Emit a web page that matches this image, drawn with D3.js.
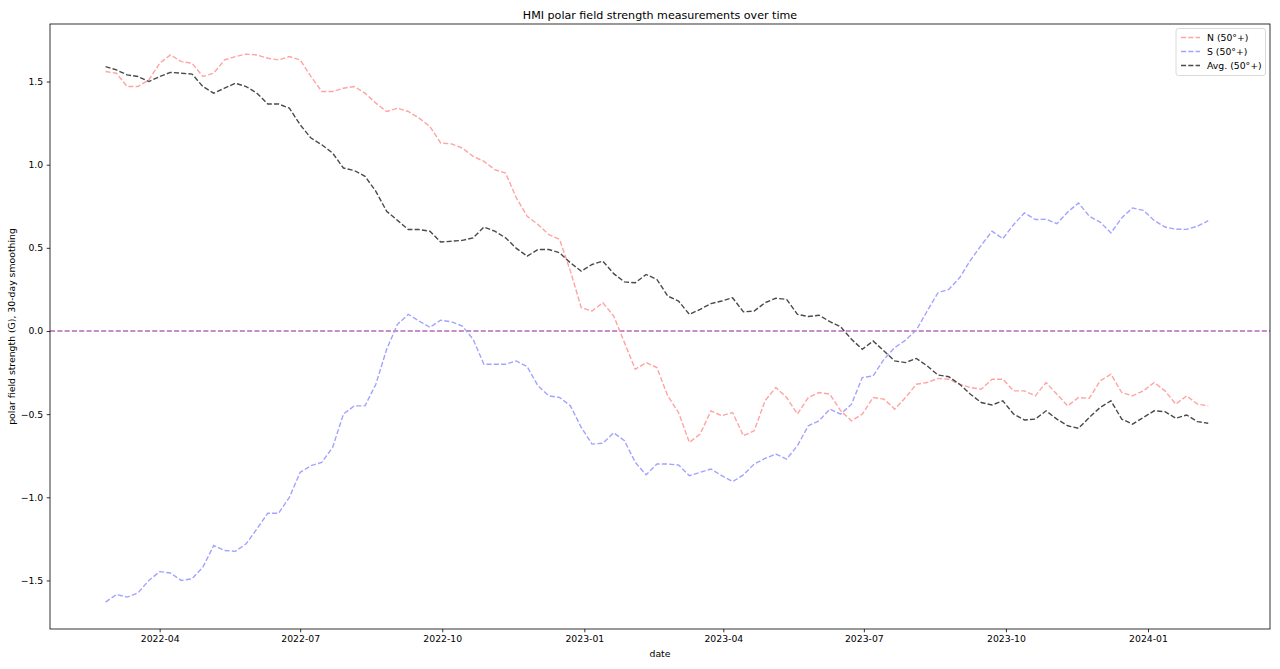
<!DOCTYPE html>
<html>
<head>
<meta charset="utf-8">
<script src="https://cdn.jsdelivr.net/npm/d3@7"></script>
<style>
  body { margin: 0; background: #fff; }
  svg { display: block; font-family: "DejaVu Sans", sans-serif; }
</style>
</head>
<body>
<svg id="chart" width="1280" height="669"></svg>
<script>
// weekly samples, first one on 2022-02-25
var startDate = "2022-02-25";
var stepDays = 7;

var northVals = [
  1.56, 1.55, 1.47, 1.47, 1.51, 1.61, 1.66, 1.62, 1.61, 1.53,
  1.55, 1.63, 1.65, 1.665, 1.66, 1.64, 1.63, 1.65, 1.63, 1.53,
  1.44, 1.44, 1.46, 1.47, 1.43, 1.37, 1.32, 1.34, 1.32, 1.28,
  1.23, 1.13, 1.125, 1.10, 1.05, 1.02, 0.97, 0.95, 0.80, 0.69,
  0.64, 0.58, 0.55, 0.36, 0.14, 0.12, 0.17, 0.09, -0.07, -0.23,
  -0.19, -0.22, -0.39, -0.49, -0.67, -0.62, -0.48, -0.51, -0.49, -0.63,
  -0.60, -0.42, -0.34, -0.40, -0.50, -0.40, -0.37, -0.38, -0.48, -0.54,
  -0.50, -0.40, -0.41, -0.47, -0.40, -0.32, -0.31, -0.285, -0.29, -0.32,
  -0.34, -0.35, -0.29, -0.29, -0.36, -0.36, -0.39, -0.31, -0.38, -0.45,
  -0.40, -0.405, -0.30, -0.26, -0.37, -0.39, -0.36, -0.31, -0.36, -0.44,
  -0.39, -0.44, -0.45
];

var southVals = [
  -1.63, -1.585, -1.60, -1.575, -1.50, -1.447, -1.455, -1.50, -1.49, -1.42,
  -1.29, -1.32, -1.325, -1.28, -1.19, -1.096, -1.096, -1.00, -0.85, -0.81,
  -0.79, -0.70, -0.50, -0.45, -0.45, -0.32, -0.11, 0.04, 0.10, 0.06,
  0.022, 0.065, 0.055, 0.03, -0.05, -0.20, -0.20, -0.20, -0.18, -0.215,
  -0.33, -0.39, -0.40, -0.45, -0.58, -0.68, -0.675, -0.612, -0.66, -0.79,
  -0.865, -0.80, -0.80, -0.806, -0.87, -0.85, -0.83, -0.87, -0.906, -0.865,
  -0.80, -0.766, -0.74, -0.77, -0.69, -0.57, -0.54, -0.47, -0.50, -0.44,
  -0.28, -0.27, -0.17, -0.10, -0.055, 0.005, 0.12, 0.23, 0.25, 0.32,
  0.425, 0.515, 0.60, 0.555, 0.64, 0.71, 0.67, 0.672, 0.645, 0.715,
  0.77, 0.69, 0.655, 0.59, 0.68, 0.74, 0.725, 0.665, 0.625, 0.612,
  0.611, 0.63, 0.663
];

var avgVals = [
  1.59, 1.57, 1.54, 1.53, 1.50, 1.53, 1.555, 1.55, 1.545, 1.47,
  1.43, 1.46, 1.49, 1.47, 1.43, 1.365, 1.365, 1.34, 1.24, 1.16,
  1.12, 1.07, 0.98, 0.965, 0.93, 0.84, 0.72, 0.665, 0.61, 0.61,
  0.60, 0.535, 0.54, 0.545, 0.56, 0.625, 0.60, 0.56, 0.497, 0.45,
  0.49, 0.49, 0.47, 0.41, 0.36, 0.40, 0.42, 0.345, 0.295, 0.29,
  0.34, 0.31, 0.21, 0.18, 0.10, 0.13, 0.165, 0.18, 0.20, 0.115,
  0.12, 0.17, 0.197, 0.19, 0.10, 0.087, 0.095, 0.056, 0.025, -0.05,
  -0.11, -0.06, -0.12, -0.18, -0.19, -0.165, -0.21, -0.265, -0.275, -0.32,
  -0.38, -0.43, -0.445, -0.42, -0.50, -0.535, -0.53, -0.48, -0.53, -0.57,
  -0.585, -0.52, -0.46, -0.42, -0.53, -0.56, -0.52, -0.48, -0.485, -0.525,
  -0.505, -0.545, -0.555
];

var seriesNames = ["N (50°+)", "S (50°+)", "Avg. (50°+)"];
var seriesColors = ["#ffa3a3", "#a3a3ff", "#4a4a4a"];
var yTickVals = [-1.5, -1.0, -0.5, 0.0, 0.5, 1.0, 1.5];
var xTickLabels = ["2022-04", "2022-07", "2022-10", "2023-01", "2023-04", "2023-07", "2023-10", "2024-01"];

(function() {

    var parse = d3.utcParse("%Y-%m-%d");
    var parseMonth = d3.utcParse("%Y-%m");
    var t0 = parse(startDate);
    var dates = northVals.map(function(d, i) { return d3.utcDay.offset(t0, i * stepDays); });

    var svg = d3.select("#chart");
    var mLeft = 50, mRight = 1270, mTop = 24, mBottom = 629;
    var fs = 9.3;
    var dash = "5.1,2.2";

    var x = d3.scaleUtc()
        .domain([parse("2022-01-20"), parse("2024-03-20")])
        .range([mLeft, mRight]);
    var y = d3.scaleLinear()
        .domain([-1.792, 1.846])
        .range([mBottom, mTop]);

    var fmtY = function(v) { return d3.format(".1f")(v).replace("-", "\u2212"); };

    // axes
    var xAxis = d3.axisBottom(x)
        .tickValues(xTickLabels.map(function(s) { return parseMonth(s); }))
        .tickFormat(d3.utcFormat("%Y-%m"))
        .tickSizeOuter(0).tickSize(3.3).tickPadding(3.5);
    var gx = svg.append("g").attr("transform", "translate(0," + mBottom + ")").call(xAxis);

    var yAxis = d3.axisLeft(y)
        .tickValues(yTickVals)
        .tickFormat(fmtY)
        .tickSizeOuter(0).tickSize(3.3).tickPadding(3.5);
    var gy = svg.append("g").attr("transform", "translate(" + mLeft + ",0)").call(yAxis);

    [gx, gy].forEach(function(g) {
        g.select(".domain").remove();
        g.selectAll(".tick line").attr("stroke", "#000").attr("stroke-width", 0.8);
        g.selectAll(".tick text")
            .attr("fill", "#000")
            .style("font-family", "DejaVu Sans")
            .style("font-size", fs + "px");
    });

    // zero line
    svg.append("line")
        .attr("x1", mLeft).attr("x2", mRight)
        .attr("y1", y(0)).attr("y2", y(0))
        .attr("stroke", "#b46ab4")
        .attr("stroke-width", 1.4)
        .attr("stroke-dasharray", dash);

    // series lines
    var line = d3.line()
        .x(function(d, i) { return x(dates[i]); })
        .y(function(d) { return y(d); });

    var allSeries = [northVals, southVals, avgVals];
    svg.selectAll("path.series")
        .data(allSeries)
        .enter().append("path")
        .attr("class", "series")
        .attr("d", line)
        .attr("fill", "none")
        .attr("stroke", function(d, i) { return seriesColors[i]; })
        .attr("stroke-width", 1.4)
        .attr("stroke-dasharray", dash);

    // frame
    svg.append("rect")
        .attr("x", mLeft).attr("y", mTop)
        .attr("width", mRight - mLeft).attr("height", mBottom - mTop)
        .attr("fill", "none")
        .attr("stroke", "#000")
        .attr("stroke-width", 0.8);

    // title and labels
    svg.append("text")
        .attr("x", (mLeft + mRight) / 2).attr("y", mTop - 5)
        .attr("text-anchor", "middle")
        .style("font-size", "11.1px")
        .text("HMI polar field strength measurements over time");

    svg.append("text")
        .attr("x", (mLeft + mRight) / 2).attr("y", 657)
        .attr("text-anchor", "middle")
        .style("font-size", fs + "px")
        .text("date");

    svg.append("text")
        .attr("transform", "translate(15," + ((mTop + mBottom) / 2) + ") rotate(-90)")
        .attr("text-anchor", "middle")
        .style("font-size", fs + "px")
        .text("polar field strength (G), 30-day smoothing");

    // legend
    var lg = svg.append("g").attr("transform", "translate(1176,28.5)");
    lg.append("rect")
        .attr("width", 89.5).attr("height", 47)
        .attr("rx", 2.5)
        .attr("fill", "#fff").attr("fill-opacity", 0.8)
        .attr("stroke", "#d0d0d0").attr("stroke-width", 0.8);
    seriesNames.forEach(function(name, i) {
        var ry = 9 + i * 14;
        lg.append("line")
            .attr("x1", 5).attr("x2", 24)
            .attr("y1", ry).attr("y2", ry)
            .attr("stroke", seriesColors[i])
            .attr("stroke-width", 1.4)
            .attr("stroke-dasharray", dash);
        lg.append("text")
            .attr("x", 31).attr("y", ry + 3.4)
            .style("font-size", fs + "px")
            .text(name);
    });

})();
</script>
</body>
</html>
